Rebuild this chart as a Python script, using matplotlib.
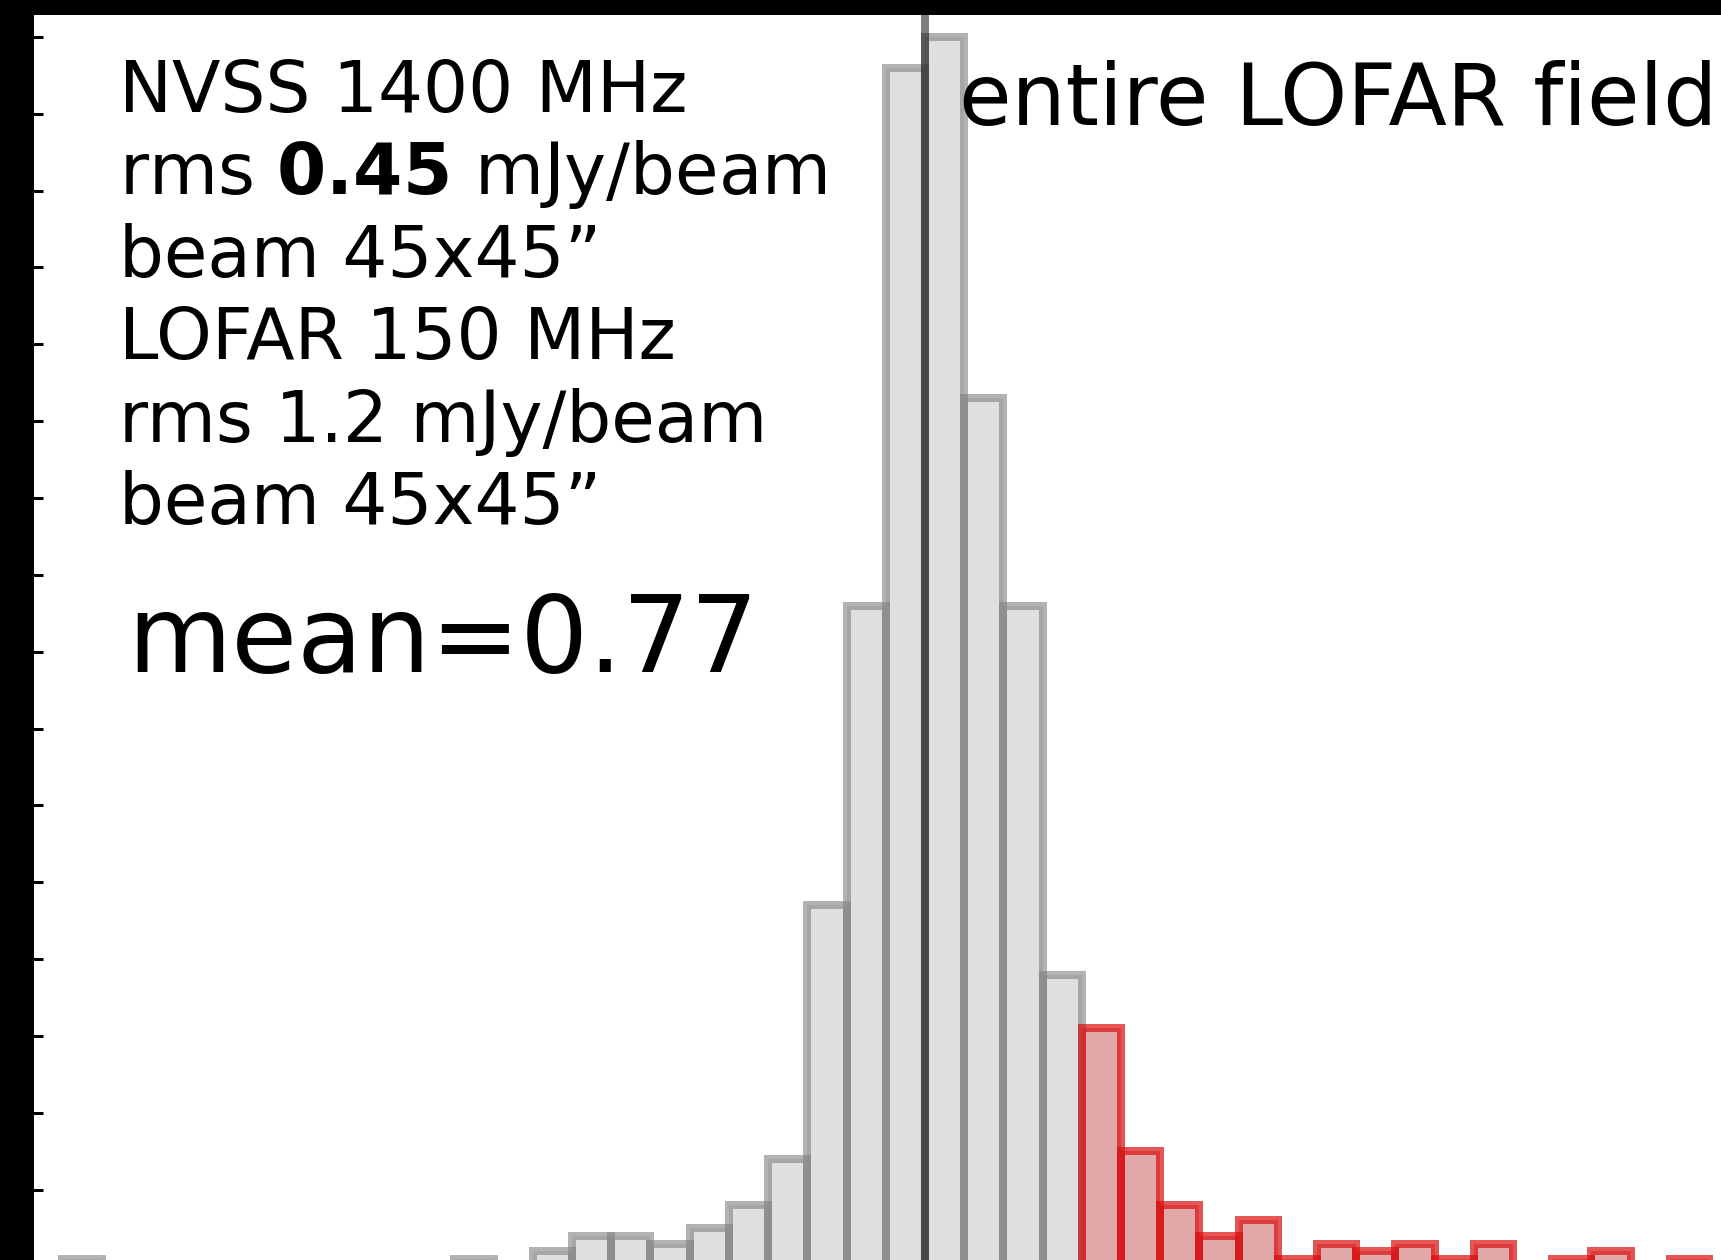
import matplotlib.pyplot as plt
import numpy as np

# spectral index distribution, counts per 0.1-wide bin
bin_left = -1.43
bin_width = 0.1
counts_main = [1, 0, 0, 0, 0, 0, 0, 0, 0, 0,
               1, 0, 2, 4, 4, 3, 5, 8, 14, 47,
               86, 156, 160, 113, 86, 38]
counts_steep = [31, 15, 8, 4, 6, 1, 3, 2, 3, 1, 3, 0, 1, 2, 0, 1]
mean_index = 0.77

info_lines = ["NVSS 1400 MHz",
              r"rms $\mathbf{0.45}$ mJy/beam",
              "beam 45x45\u201d",
              "LOFAR 150 MHz",
              "rms 1.2 mJy/beam",
              "beam 45x45\u201d"]

W, H = 1721, 1260
px = 72 / 100  # points per pixel at dpi 100

fig = plt.figure(figsize=(W / 100, H / 100), dpi=100)
# frame runs past the bottom and right edges of the canvas
ax = fig.add_axes([17 / W, (H - 1266.6) / H, (1799.1 - 17) / W, 1266.6 / H])

n_main = len(counts_main)
edges_main = bin_left + bin_width * np.arange(n_main)
edges_steep = bin_left + bin_width * (n_main + np.arange(len(counts_steep)))

ax.bar(edges_main, counts_main, width=bin_width, align='edge',
       facecolor=(0.5, 0.5, 0.5, 0.25), edgecolor=(0.5, 0.5, 0.5, 0.6),
       linewidth=8 * px)
ax.bar(edges_steep, counts_steep, width=bin_width, align='edge',
       facecolor=(0.7, 0.1, 0.1, 0.38), edgecolor=(0.85, 0.05, 0.05, 0.7),
       linewidth=8 * px)
ax.axvline(mean_index, color='k', alpha=0.5, linewidth=8 * px)

ax.set_xlim(-1.546, 3.0)
ax.set_ylim(0, 164.8)
ax.set_yticks(np.arange(0, 161, 10))
ax.tick_params(axis='y', direction='in', length=26 * px, width=3 * px,
               labelleft=False)
ax.tick_params(axis='x', bottom=False, labelbottom=False)
ax.spines['left'].set_linewidth(34 * px)
ax.spines['top'].set_linewidth(30 * px)
for side in ['right', 'bottom']:
    ax.spines[side].set_visible(False)

# annotation block
y0, dy = 111.7, 82.5
for i, line in enumerate(info_lines):
    fig.text(119 / W, 1 - (y0 + i * dy) / H, line, fontsize=51,
             va='baseline', ha='left')
fig.text(127 / W, 1 - 671.7 / H, "mean=%.2f" % mean_index, fontsize=77,
         va='baseline', ha='left')
fig.text(958.6 / W, 1 - 124 / H, "entire LOFAR field", fontsize=61.5,
         va='baseline', ha='left')

fig.savefig("out.png", dpi=100)
